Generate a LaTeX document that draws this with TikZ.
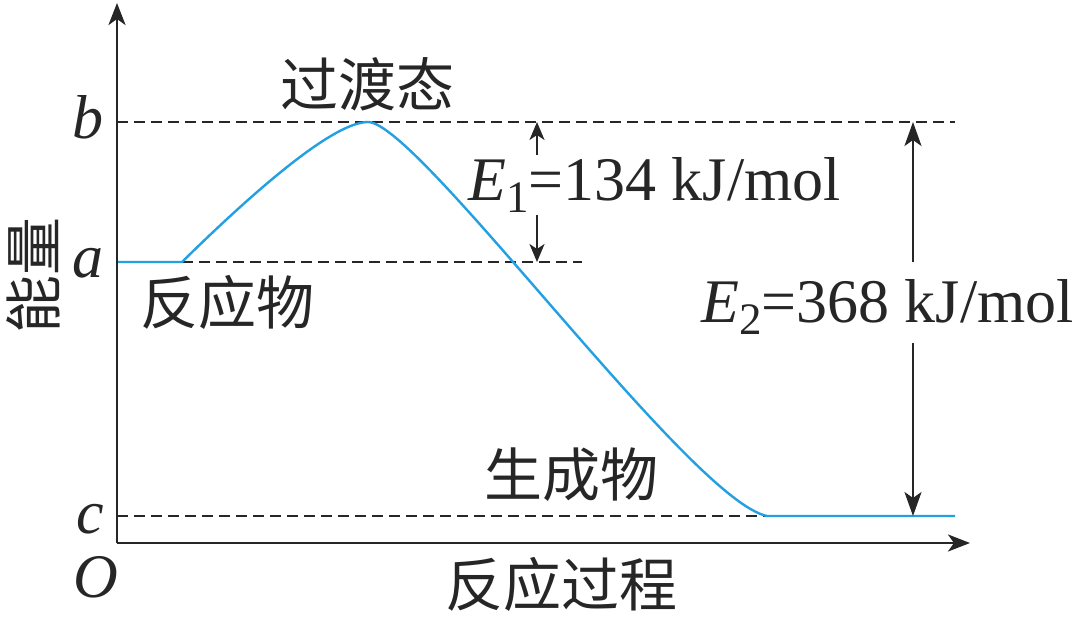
\documentclass[tikz,border=0pt]{standalone}
\usepackage{fontspec}
\setmainfont{Liberation Serif}
\newfontfamily\cjk{Noto Sans CJK SC}
\usetikzlibrary{arrows.meta}
\definecolor{curveblue}{RGB}{35,160,225}
\definecolor{ink}{RGB}{38,38,38}
\newcommand\Elab[2]{\textit{E}\raisebox{-12pt}{\fontsize{45}{45}\selectfont #1}=#2 kJ/mol}
\begin{document}
\begin{tikzpicture}[x=1pt,y=-1pt,
  axisline/.style={draw=ink,line width=2.8pt,-{Stealth[length=22pt,width=17pt,inset=6pt]}},
  guide/.style={draw=ink,line width=2.2pt,dash pattern=on 11pt off 6pt},
  energycurve/.style={draw=curveblue,line width=2.4pt,line join=round},
  gap/.style={draw=ink,line width=2.2pt,-{Stealth[length=18pt,width=15pt,inset=5pt]}},
  gapbig/.style={draw=ink,line width=2.2pt,-{Stealth[length=24pt,width=17pt,inset=6pt]}},
  cjklabel/.style={inner sep=0pt,text=ink,font=\cjk\fontsize{58}{58}\selectfont},
  letter/.style={inner sep=0pt,anchor=base,text=ink,font=\fontsize{62}{62}\selectfont\itshape},
  eqlabel/.style={inner sep=0pt,anchor=base west,text=ink,font=\fontsize{62}{62}\selectfont}
]
\useasboundingbox (0,0) rectangle (1080,621);
\fill[white] (0,0) rectangle (1080,621);

% key points
\coordinate (O) at (117,543);
\coordinate (ytip) at (117,3);
\coordinate (xtip) at (970,543);
\coordinate (bL) at (117,122);
\coordinate (bR) at (955,122);
\coordinate (aL) at (117,262);
\coordinate (aS) at (182,262);
\coordinate (aR) at (582,262);
\coordinate (cL) at (117,516);
\coordinate (cS) at (767,516);
\coordinate (cR) at (955,516);
\coordinate (peak) at (368,122);

% guides
\draw[guide] (bL) -- (bR);
\draw[guide] (aS) -- (aR);
\draw[guide] (cL) -- (cS);

% energy curve
\draw[energycurve] (aL) -- (aS) .. controls (240,205) and (330,122) .. (peak)
  .. controls (418,122) and (690,500) .. (cS) -- (cR);

% axes
\draw[axisline] (O) -- (ytip);
\draw[axisline] (O) -- (xtip);

% E1 arrows
\coordinate (e1top) at (537,122);
\coordinate (e1up) at (537,155);
\coordinate (e1dn) at (537,215);
\coordinate (e1bot) at (537,262);
\draw[gap] (e1up) -- (e1top);
\draw[gap] (e1dn) -- (e1bot);

% E2 arrows
\coordinate (e2top) at (913,122);
\coordinate (e2up) at (913,262);
\coordinate (e2dn) at (913,343);
\coordinate (e2bot) at (913,516);
\draw[gapbig] (e2up) -- (e2top);
\draw[gapbig] (e2dn) -- (e2bot);

% labels
\node[eqlabel] (E1) at (468,200) {\Elab{1}{134}};
\node[eqlabel] (E2) at (701,322) {\Elab{2}{368}};

\node[letter] (lb) at (88,138) {b};
\node[letter] (la) at (88,277) {a};
\node[letter] (lc) at (90,533) {c};
\node[letter] (lO) at (96,597) {O};

\node[cjklabel] (ts) at (367,84) {过渡态};
\node[cjklabel] (react) at (227,302) {反应物};
\node[cjklabel] (prod) at (571,475) {生成物};
\node[cjklabel] (xlab) at (561,584) {反应过程};
\node[cjklabel,rotate=90] (ylab) at (33,275) {能量};
\end{tikzpicture}
\end{document}
